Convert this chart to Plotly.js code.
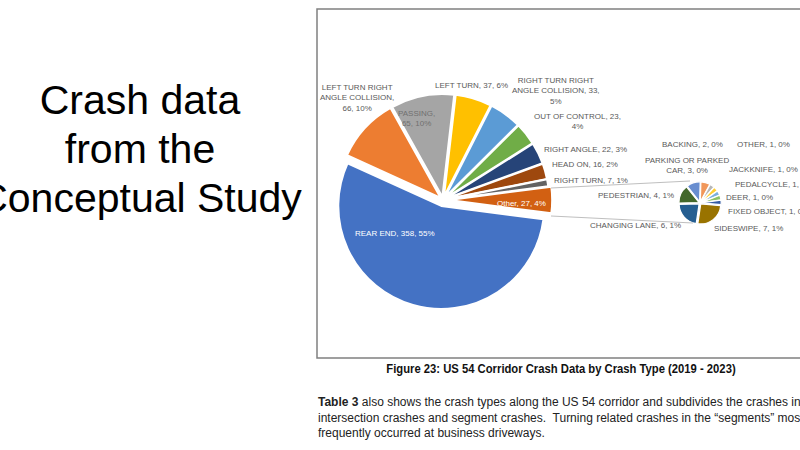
<!DOCTYPE html>
<html><head><meta charset="utf-8">
<script src="https://cdn.plot.ly/plotly-3.0.1.min.js"></script>
<style>
html,body{margin:0;padding:0;width:800px;height:450px;overflow:hidden;background:#fff;}
#chart{position:absolute;left:0;top:0;width:800px;height:450px;}
.t{position:absolute;white-space:pre;pointer-events:none;}
#title{left:-60px;top:76px;width:400px;text-align:center;font-family:"Liberation Sans",Arial,sans-serif;font-size:41px;line-height:49px;color:#000;}
#caption{left:300px;top:361px;width:522px;text-align:center;font-family:"Liberation Sans",Arial,sans-serif;font-weight:bold;font-size:12.5px;line-height:16px;color:#111;transform:scaleX(0.9);transform-origin:261px 50%;}
#para{left:318px;top:395px;font-family:"Liberation Sans",Arial,sans-serif;font-size:12px;line-height:15.5px;color:#222;}
</style></head><body>
<div id="chart"></div>
<div class="t" id="title"></div>
<div class="t" id="caption"></div>
<div class="t" id="para"></div>
<script>
// ---- data ----
const mainLabels = ["REAR END","LEFT TURN RIGHT ANGLE COLLISION","PASSING","LEFT TURN","RIGHT TURN RIGHT ANGLE COLLISION","OUT OF CONTROL","RIGHT ANGLE","HEAD ON","RIGHT TURN"];
const mainValues = [358,66,65,37,33,23,22,16,7];
const otherLabel = "Other";
const subLabels = ["SIDESWIPE","CHANGING LANE","PEDESTRIAN","PARKING OR PARKED CAR","BACKING","OTHER","JACKKNIFE","PEDALCYCLE","DEER","FIXED OBJECT"];
const subValues = [7,6,4,3,2,1,1,1,1,1];
const titleLines = ["Crash data","from the","Conceptual Study"];
const captionText = "Figure 23: US 54 Corridor Crash Data by Crash Type (2019 - 2023)";
const paraLines = [
  "<b>Table 3</b> also shows the crash types along the US 54 corridor and subdivides the crashes into",
  "intersection crashes and segment crashes.  Turning related crashes in the \u201csegments\u201d most",
  "frequently occurred at business driveways."
];

// ---- styles / positions ----
const mainColors = ['#4472C4','#ED7D31','#A5A5A5','#FFC000','#5B9BD5','#70AD47','#264478','#9E480E','#636363','#D26012'];
const subColors  = ['#997300','#255E91','#43682B','#698ED0','#F1975A','#B7B7B7','#FFCD33','#7CAFDD','#8CC168','#335AA1'];
const mainPull = [0.06,0.03,0.03,0.03,0.03,0.03,0.03,0.03,0.03,0.06];
// label placement: [x px, y px, wrap chars, anchor, color]
const GRAY = '#595959';
const mainLabelPos = [
  [395,233,99,'center','#ffffff'],
  [357,98,16,'center',GRAY],
  [416,118,8,'center','#707070'],
  [471,85,99,'center',GRAY],
  [556,91,20,'center',GRAY],
  [577,122,20,'center',GRAY],
  [585,149,99,'center',GRAY],
  [585,164,99,'center',GRAY],
  [591,180,99,'center',GRAY],
  [521,203,99,'center','#ffffff']
];
const subLabelPos = [
  [748,228,99,'center',GRAY],
  [635,225,99,'center',GRAY],
  [636,195,99,'center',GRAY],
  [687,166,18,'center',GRAY],
  [692,144,99,'center',GRAY],
  [763,144,99,'center',GRAY],
  [763,169,99,'center',GRAY],
  [733,184,99,'left',GRAY],
  [749,197,99,'center',GRAY],
  [726,212,99,'left',GRAY]
];
const LABEL_FONT = '"Liberation Sans",Arial,sans-serif';
const LABEL_SIZE = 8;

const W = 800, H = 450;
const px = x => x / W, py = y => 1 - y / H;

function wrap(s, n){
  const words = s.split(' '); const lines = []; let cur = '';
  for (const w of words){
    if (cur && (cur + ' ' + w).length > n){ lines.push(cur); cur = w; }
    else cur = cur ? cur + ' ' + w : w;
  }
  if (cur) lines.push(cur);
  return lines.join('<br>');
}

const otherTotal = subValues.reduce((a,b)=>a+b,0);
const allMainValues = mainValues.concat([otherTotal]);
const allMainLabels = mainLabels.concat([otherLabel]);
const total = allMainValues.reduce((a,b)=>a+b,0);
const pct = v => Math.round(v / total * 100) + '%';

// pie geometry
const mc = [443,200], mr = 103;
const mBox = mr * (1 + Math.max(...mainPull));
const sc = [700,203], sr = 20, subPull = 0.06;
const sBox = sr * (1 + subPull);

const traces = [
  {
    type:'pie', values: allMainValues, labels: allMainLabels, sort:false, direction:'clockwise',
    rotation: 90 + otherTotal / total * 180,
    textinfo:'none', hoverinfo:'none',
    marker:{colors: mainColors, line:{color:'#ffffff', width:2}},
    pull: mainPull,
    domain:{x:[px(mc[0]-mBox), px(mc[0]+mBox)], y:[py(mc[1]+mBox), py(mc[1]-mBox)]}
  },
  {
    type:'pie', values: subValues, labels: subLabels.map(s=>s+' '), sort:false, direction:'clockwise',
    rotation: 95,
    textinfo:'none', hoverinfo:'none',
    marker:{colors: subColors, line:{color:'#ffffff', width:1.2}},
    pull: subValues.map(()=>subPull),
    domain:{x:[px(sc[0]-sBox), px(sc[0]+sBox)], y:[py(sc[1]+sBox), py(sc[1]-sBox)]}
  }
];

const annotations = [];
function addLabel(name, v, pos){
  annotations.push({
    xref:'paper', yref:'paper', x: px(pos[0]), y: py(pos[1]),
    xanchor: pos[3], yanchor:'middle', align: pos[3]==='left'?'left':'center',
    text: wrap(name + ', ' + v + ', ' + pct(v), pos[2]),
    showarrow:false, font:{family: LABEL_FONT, size: LABEL_SIZE, color: pos[4]}
  });
}
allMainLabels.forEach((n,i)=>addLabel(n, allMainValues[i], mainLabelPos[i]));
subLabels.forEach((n,i)=>addLabel(n, subValues[i], subLabelPos[i]));

const shapes = [
  {type:'rect', xref:'paper', yref:'paper', x0:px(317), x1:px(820), y0:py(358), y1:py(9), line:{color:'#808080', width:1.5}},
  {type:'line', xref:'paper', yref:'paper', x0:px(551), y0:py(188), x1:px(690), y1:py(181), line:{color:'#BFBFBF', width:1}},
  {type:'line', xref:'paper', yref:'paper', x0:px(551), y0:py(216), x1:px(693), y1:py(223), line:{color:'#BFBFBF', width:1}}
];

Plotly.newPlot('chart', traces, {
  width: W, height: H, margin:{l:0,r:0,t:0,b:0},
  paper_bgcolor:'rgba(0,0,0,0)', plot_bgcolor:'rgba(0,0,0,0)',
  showlegend:false, annotations, shapes,
  xaxis:{visible:false}, yaxis:{visible:false}
}, {staticPlot:true, displayModeBar:false});

document.getElementById('title').innerHTML = titleLines.join('<br>');
document.getElementById('caption').textContent = captionText;
document.getElementById('para').innerHTML = paraLines.join('<br>');
</script>
</body></html>
